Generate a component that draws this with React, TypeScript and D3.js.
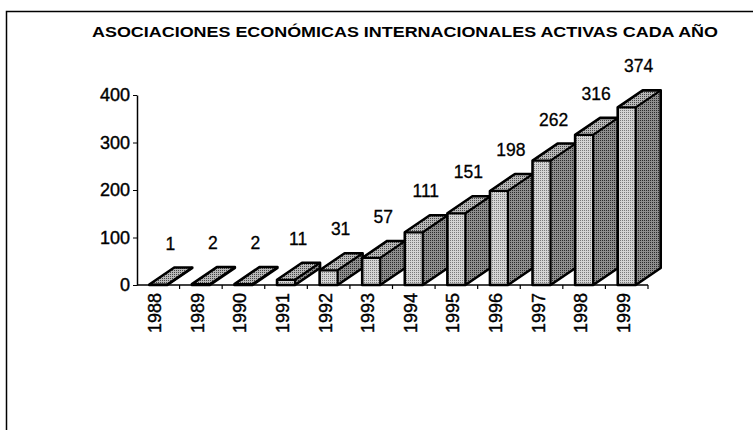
import React, { useEffect, useRef } from 'react'
import * as d3 from 'd3'

const years = ['1988', '1989', '1990', '1991', '1992', '1993', '1994', '1995', '1996', '1997', '1998', '1999']
const counts = [1, 2, 2, 11, 31, 57, 111, 151, 198, 262, 316, 374]
const yTicks = [0, 100, 200, 300, 400]
const title = 'ASOCIACIONES ECONÓMICAS INTERNACIONALES ACTIVAS CADA AÑO'

export default function App() {
  const ref = useRef<SVGSVGElement>(null)

  useEffect(() => {
    const svg = d3.select(ref.current)
    svg.selectAll('*').remove()

    const left = 137, right = 648, top = 95, bottom = 285
    const depthX = 25, depthY = -17, faceW = 18
    const font = 'Liberation Sans, Arial, sans-serif'

    const x = d3.scaleBand().domain(years).range([left, right])
    const y = d3.scaleLinear().domain([0, 400]).range([bottom, top])

    // dotted fills, like the scanned halftone
    const defs = svg.append('defs')
    const pat = (id, base, dot) => {
      const p = defs.append('pattern').attr('id', id).attr('width', 2).attr('height', 2)
        .attr('patternUnits', 'userSpaceOnUse')
      p.append('rect').attr('width', 2).attr('height', 2).attr('fill', base)
      p.append('rect').attr('width', 1).attr('height', 1).attr('fill', dot)
    }
    pat('front', '#d4d4d4', '#7a7a7a')
    pat('side', '#8e8e8e', '#2a2a2a')
    pat('topf', '#b8b8b8', '#444')

    // frame
    svg.append('rect').attr('x', 6.5).attr('y', 11.5).attr('width', 770).attr('height', 440)
      .attr('fill', 'none').attr('stroke', '#000').attr('stroke-width', 1.5)

    svg.append('text').attr('x', 405).attr('y', 37).attr('text-anchor', 'middle')
      .attr('font-family', font).attr('font-weight', 'bold')
      .attr('font-size', 15.5).attr('textLength', 626).attr('lengthAdjust', 'spacingAndGlyphs')
      .text(title)

    // y axis
    const yAxis = svg.append('g').attr('transform', `translate(${left},0)`)
      .call(d3.axisLeft(y).tickValues(yTicks).tickSize(4).tickSizeOuter(0).tickPadding(3))
    yAxis.select('.domain').attr('stroke-width', 1.5)
    yAxis.selectAll('text').attr('font-size', 18).attr('font-family', font)
      .attr('fill', '#000').attr('stroke', '#000').attr('stroke-width', 0.4)

    // x axis
    svg.append('line').attr('x1', left).attr('x2', right).attr('y1', bottom).attr('y2', bottom)
      .attr('stroke', '#000').attr('stroke-width', 1.5)
    svg.append('g').selectAll('line').data(years).join('line')
      .attr('x1', d => x(d) + x.bandwidth()).attr('x2', d => x(d) + x.bandwidth())
      .attr('y1', bottom).attr('y2', bottom + 4).attr('stroke', '#000').attr('stroke-width', 1.2)
    svg.append('g').selectAll('text').data(years).join('text')
      .attr('transform', d => `translate(${x(d) + x.bandwidth() / 2 + 3},${bottom + 8}) rotate(-90)`)
      .attr('text-anchor', 'end').attr('font-size', 18)
      .attr('stroke', '#000').attr('stroke-width', 0.4)
      .attr('font-family', font).text(d => d)

    // 3d bars
    const bars = svg.append('g').selectAll('g').data(years).join('g')
    const x0 = (d) => x(d) + x.bandwidth() / 2 - faceW / 2
    const x1 = (d) => x0(d) + faceW
    const yt = (i) => y(counts[i])
    const pts = (a) => a.map(p => p.join(',')).join(' ')

    bars.append('polygon')
      .attr('points', (d, i) => pts([[x1(d), bottom], [x1(d) + depthX, bottom + depthY],
        [x1(d) + depthX, yt(i) + depthY], [x1(d), yt(i)]]))
      .attr('fill', 'url(#side)')
    bars.append('polygon')
      .attr('points', (d, i) => pts([[x0(d), yt(i)], [x1(d), yt(i)], [x1(d) + depthX, yt(i) + depthY],
        [x0(d) + depthX, yt(i) + depthY]]))
      .attr('fill', 'url(#topf)')
    bars.append('rect')
      .attr('x', d => x0(d)).attr('y', (d, i) => yt(i))
      .attr('width', faceW).attr('height', (d, i) => bottom - yt(i))
      .attr('fill', 'url(#front)')
    bars.append('polygon')
      .attr('points', (d, i) => pts([[x0(d), bottom], [x0(d), yt(i)], [x0(d) + depthX, yt(i) + depthY],
        [x1(d) + depthX, yt(i) + depthY], [x1(d) + depthX, bottom + depthY], [x1(d), bottom]]))
      .attr('fill', 'none').attr('stroke', '#000').attr('stroke-width', 2.6).attr('stroke-linejoin', 'round')
    bars.append('polyline')
      .attr('points', (d, i) => pts([[x0(d), yt(i)], [x1(d), yt(i)], [x1(d), bottom]]))
      .attr('fill', 'none').attr('stroke', '#000').attr('stroke-width', 2.2)
    bars.append('line')
      .attr('x1', d => x1(d)).attr('y1', (d, i) => yt(i))
      .attr('x2', d => x1(d) + depthX).attr('y2', (d, i) => yt(i) + depthY)
      .attr('stroke', '#000').attr('stroke-width', 2.2)

    // value labels
    svg.append('g').selectAll('text').data(years).join('text')
      .attr('x', d => x(d) + x.bandwidth() / 2 + 12)
      .attr('y', (d, i) => yt(i) + depthY - 18)
      .attr('text-anchor', 'middle').attr('font-size', 17.5)
      .attr('stroke', '#000').attr('stroke-width', 0.3)
      .attr('font-family', font)
      .text((d, i) => counts[i])
  }, [])

  return (
    <svg ref={ref} width={753} height={430}
      style={{ position: 'absolute', left: 0, top: 0, background: '#fff' }} />
  )
}
